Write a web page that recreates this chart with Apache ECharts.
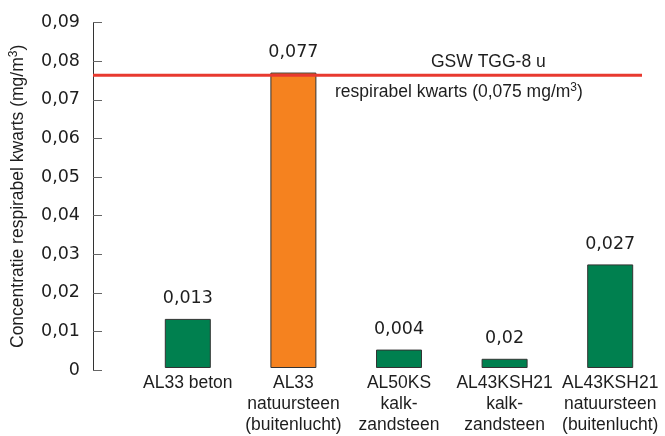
<!DOCTYPE html>
<html><head><meta charset="utf-8">
<script src="https://cdn.jsdelivr.net/npm/echarts@6/dist/echarts.min.js"></script>
<style>html,body{margin:0;padding:0;background:#fff}#c{width:665px;height:436px}</style>
</head><body><div id="c"></div>
<script>
const categories = ['AL33 beton', 'AL33\nnatuursteen\n(buitenlucht)', 'AL50KS\nkalk-\nzandsteen', 'AL43KSH21\nkalk-\nzandsteen', 'AL43KSH21\nnatuursteen\n(buitenlucht)'];
const values = [0.0128, 0.077, 0.0048, 0.0024, 0.027];
const valueLabels = ['0,013', '0,077', '0,004', '0,02', '0,027'];
const barColors = ['#00804f', '#f5821f', '#00804f', '#00804f', '#00804f'];
const limitValue = 0.0764;
const limitTitle = 'GSW TGG-8 u';
const limitSub = 'respirabel kwarts (0,075 mg/m{sup|3})';
const yName = 'Concentratie respirabel kwarts (mg/m{sup|3})';

const TXT = '#1e1e1e';
const FONT = 'Liberation Sans, Arial, sans-serif';
const NUMFONT = 'DejaVu Sans, sans-serif';
const chart = echarts.init(document.getElementById('c'));
chart.setOption({
  animation: false,
  grid: [
    {left: 135, right: 2, top: 22.7, bottom: 66},
    {left: 93, right: 23, top: 22.7, bottom: 66}
  ],
  xAxis: [
    {type: 'category', gridIndex: 0, data: categories,
     axisLine: {show: false}, axisTick: {show: false},
     axisLabel: {color: TXT, fontFamily: FONT, fontSize: 17.5, lineHeight: 21, margin: 5, interval: 0}},
    {type: 'value', gridIndex: 1, min: 0, max: 1, show: false}
  ],
  yAxis: [
    {type: 'value', gridIndex: 0, min: 0, max: 0.09, interval: 0.01, show: false},
    {type: 'value', gridIndex: 1, min: 0, max: 0.09, interval: 0.01, offset: 7,
     axisLine: {show: true, lineStyle: {color: '#333', width: 1}},
     axisTick: {show: true, inside: true, length: 9, lineStyle: {color: '#666'}},
     splitLine: {show: false},
     axisLabel: {color: TXT, fontFamily: NUMFONT, fontSize: 17.5, margin: 6,
       formatter: v => v === 0 ? '0' : v.toFixed(2).replace('.', ',')},
     name: yName, nameLocation: 'middle', nameGap: 57,
     nameTextStyle: {color: TXT, fontFamily: FONT, fontSize: 17.5,
       rich: {sup: {fontSize: 12, fontFamily: FONT, color: TXT, verticalAlign: 'top', padding: [0, 0, 9, 0]}}}}
  ],
  series: [
    {type: 'bar', xAxisIndex: 0, yAxisIndex: 0, barWidth: 46, z: 2,
     data: values.map((v, i) => ({value: v, itemStyle: {color: barColors[i]}})),
     itemStyle: {borderColor: '#333', borderWidth: 1},
     label: {show: true, position: 'top', distance: 11, color: TXT, fontFamily: NUMFONT, fontSize: 17.5,
       formatter: p => valueLabels[p.dataIndex]}},
    {type: 'line', xAxisIndex: 1, yAxisIndex: 1, z: 5, symbol: 'none',
     data: [[0, limitValue], [1, limitValue]],
     lineStyle: {color: '#e8392f', width: 3}}
  ],
  graphic: [
    {type: 'text', left: 431, top: 53, z: 10,
     style: {text: limitTitle, fill: TXT, font: '17.5px ' + FONT}},
    {type: 'text', left: 335, top: 82, z: 10,
     style: {text: limitSub, fill: TXT, font: '17.5px ' + FONT,
       rich: {sup: {fontSize: 12, fontFamily: FONT, fill: TXT, verticalAlign: 'top', padding: [0, 0, 9, 0]}}}}
  ]
});
</script></body></html>
